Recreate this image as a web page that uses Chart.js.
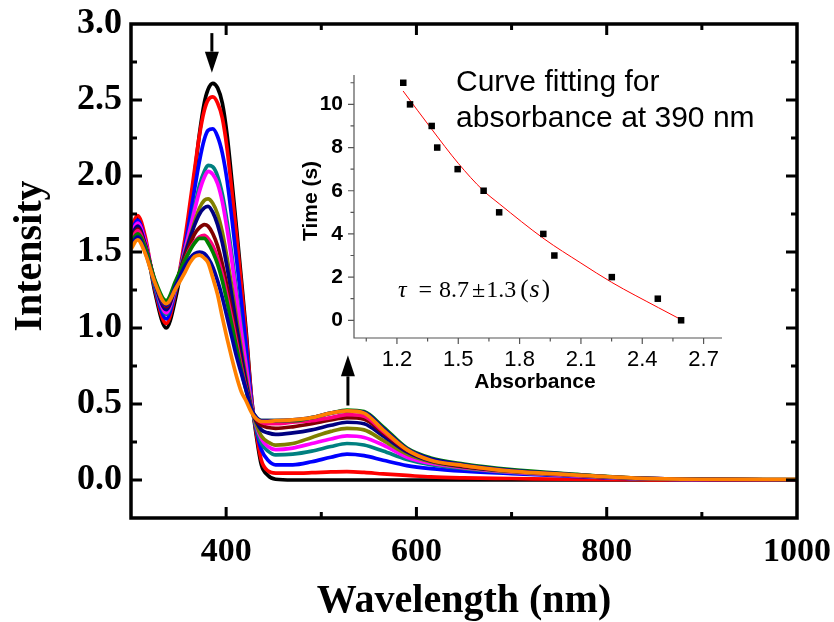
<!DOCTYPE html>
<html>
<head>
<meta charset="utf-8">
<script src="https://cdn.jsdelivr.net/npm/chart.js@4.4.1/dist/chart.umd.min.js"></script>
<style>
  html, body { margin: 0; padding: 0; background: #fff; }
  #wrap { position: relative; width: 834px; height: 622px; }
  #main { position: absolute; left: 0; top: 0; }
  #inset { position: absolute; left: 290px; top: 50px; }
</style>
</head>
<body>
<div id="wrap">
  <canvas id="main" width="834" height="622"></canvas>
  <canvas id="inset" width="490" height="350"></canvas>
</div>
<script>
// wavelength grid (nm) shared by all spectra
const wavelength = [300, 307, 315, 325, 337, 347, 357, 362, 367, 372, 377, 381, 386, 391, 396, 401, 406, 411, 416, 421, 427, 432, 437, 444, 452, 470, 490, 510, 527, 545, 565, 590, 615, 650, 700, 760, 830, 900, 1000];

const black   = [1.64,1.72,1.58,1.24,1.00, 1.20,1.55,1.78,2.02,2.28, 2.48,2.57,2.61,2.58,2.48, 2.27,1.97,1.65,1.32,0.98, 0.52,0.28,0.10,0.03,0.005, 0,0,0,0,0, 0,0,0,0,0, 0,0,0,0];
const red     = [1.66,1.74,1.60,1.26,1.03, 1.24,1.60,1.82,2.05,2.27, 2.43,2.50,2.52,2.48,2.38, 2.18,1.90,1.60,1.28,0.95, 0.52,0.30,0.13,0.06,0.045, 0.045,0.048,0.053,0.055,0.05, 0.04,0.03,0.02,0.014,0.01, 0.005,0.002,0,0];
const blue    = [1.63,1.71,1.57,1.27,1.06, 1.25,1.55,1.73,1.92,2.10, 2.24,2.30,2.31,2.26,2.15, 1.97,1.72,1.45,1.17,0.88, 0.50,0.32,0.20,0.13,0.10, 0.10,0.12,0.15,0.17,0.16, 0.13,0.095,0.075,0.058,0.042, 0.026,0.009,0.003,0];
const teal    = [1.60,1.67,1.55,1.28,1.09, 1.26,1.52,1.66,1.80,1.94, 2.03,2.07,2.06,2.00,1.88, 1.70,1.48,1.24,1.00,0.77, 0.48,0.33,0.24,0.19,0.165, 0.17,0.19,0.22,0.24,0.23, 0.19,0.135,0.10,0.075,0.05, 0.03,0.01,0.003,0];
const magenta = [1.62,1.69,1.57,1.30,1.10, 1.27,1.52,1.65,1.78,1.90, 1.99,2.03,2.01,1.95,1.83, 1.65,1.44,1.20,0.97,0.75, 0.48,0.35,0.27,0.22,0.20, 0.21,0.24,0.27,0.29,0.28, 0.23,0.15,0.11,0.08,0.052, 0.031,0.01,0.003,0];
const olive   = [1.58,1.65,1.54,1.30,1.13, 1.28,1.50,1.60,1.70,1.79, 1.84,1.85,1.82,1.75,1.63, 1.46,1.27,1.06,0.86,0.67, 0.47,0.36,0.29,0.25,0.23, 0.24,0.28,0.32,0.34,0.33, 0.26,0.17,0.12,0.085,0.055, 0.033,0.011,0.004,0];
const navy    = [1.60,1.67,1.55,1.30,1.12, 1.28,1.49,1.59,1.68,1.75, 1.79,1.80,1.76,1.68,1.56, 1.40,1.21,1.01,0.82,0.64, 0.46,0.38,0.33,0.31,0.30, 0.31,0.33,0.36,0.38,0.37, 0.29,0.185,0.125,0.088,0.058, 0.035,0.012,0.004,0];
const wine    = [1.58,1.65,1.54,1.31,1.14, 1.29,1.47,1.55,1.62,1.66, 1.68,1.67,1.62,1.54,1.42, 1.27,1.10,0.93,0.76,0.61, 0.46,0.39,0.36,0.345,0.34, 0.35,0.37,0.395,0.41,0.40, 0.31,0.195,0.13,0.09,0.06, 0.036,0.012,0.004,0];
const pink    = [1.57,1.64,1.53,1.31,1.15, 1.29,1.45,1.52,1.57,1.60, 1.61,1.59,1.54,1.46,1.35, 1.21,1.06,0.90,0.74,0.60, 0.46,0.40,0.38,0.37,0.37, 0.38,0.39,0.41,0.43,0.42, 0.32,0.20,0.135,0.095,0.062, 0.037,0.012,0.004,0];
const green   = [1.56,1.62,1.53,1.32,1.18, 1.31,1.45,1.51,1.56,1.59, 1.59,1.56,1.50,1.42,1.31, 1.17,1.02,0.87,0.72,0.59, 0.46,0.41,0.39,0.39,0.39, 0.39,0.41,0.44,0.46,0.45, 0.35,0.21,0.145,0.105,0.068, 0.04,0.013,0.005,0.003];
const royal   = [1.54,1.60,1.50,1.30,1.15, 1.28,1.41,1.46,1.49,1.50, 1.49,1.46,1.40,1.31,1.20, 1.07,0.94,0.81,0.70,0.59, 0.46,0.41,0.39,0.39,0.39, 0.395,0.41,0.44,0.455,0.445, 0.34,0.205,0.14,0.10,0.064, 0.038,0.012,0.005,0.003];
const orange  = [1.52,1.58,1.49,1.30,1.16, 1.26,1.37,1.43,1.47,1.48, 1.46,1.43,1.33,1.22,1.07, 0.93,0.80,0.68,0.58,0.52, 0.44,0.40,0.385,0.385,0.39, 0.395,0.41,0.44,0.455,0.44, 0.33,0.20,0.13,0.095,0.058, 0.036,0.012,0.005,0.004];

const spectra = [black, red, blue, teal, magenta, olive, navy, wine, pink, green, royal, orange];
const lineColors = ['#000000', '#ff0000', '#0000ff', '#008080', '#ff00ff', '#808000', '#000080', '#800000', '#ff0080', '#008000', '#0000a0', '#ff8000'];

// main axes
const xLabels = [400, 600, 800, 1000];
const xMinor = [500, 700, 900];
const yLabels = [0, 0.5, 1.0, 1.5, 2.0, 2.5, 3.0];
const yMinor = [0.25, 0.75, 1.25, 1.75, 2.25, 2.75];

// arrows: wavelength, start and end absorbance
const arrows = [
  { x: 385, from: 2.94, to: 2.68 },
  { x: 528, from: 0.49, to: 0.82 }
];

// inset: time vs absorbance at 390 nm
const insetTime = [0, 1, 2, 3, 4, 5, 6, 7, 8, 9, 10, 11];
const insetAbs = [2.59, 2.476, 2.251, 1.97, 1.916, 1.70, 1.624, 1.497, 1.397, 1.37, 1.264, 1.231];
const fitAbs = [1.23, 1.37, 1.50, 1.62, 1.70, 1.92, 2.10, 2.25, 2.48, 2.59];
const fitTime = [10.62, 8.85, 7.27, 6.03, 5.40, 3.77, 2.65, 1.76, 0.58, 0.03];
const insetXLabels = [1.2, 1.5, 1.8, 2.1, 2.4, 2.7];
const insetXMinor = [1.05, 1.35, 1.65, 1.95, 2.25, 2.55];
const insetYLabels = [0, 2, 4, 6, 8, 10];
const insetYMinor = [1, 3, 5, 7, 9, 11];

const serif = "'Liberation Serif', 'Times New Roman', serif";
const sans = "'Liberation Sans', Arial, sans-serif";

// frame with inward ticks, arrows and axis titles
const mainDecor = {
  id: 'mainDecor',
  afterDraw(chart) {
    const { ctx, chartArea: a, scales: { x, y } } = chart;
    ctx.save();
    ctx.strokeStyle = '#000';
    ctx.fillStyle = '#000';

    ctx.lineWidth = 3;
    ctx.beginPath();
    const tickX = (v, len) => {
      const px = x.getPixelForValue(v);
      ctx.moveTo(px, a.bottom); ctx.lineTo(px, a.bottom - len);
      ctx.moveTo(px, a.top); ctx.lineTo(px, a.top + len);
    };
    const tickY = (v, len) => {
      const py = y.getPixelForValue(v);
      ctx.moveTo(a.left, py); ctx.lineTo(a.left + len, py);
      ctx.moveTo(a.right, py); ctx.lineTo(a.right - len, py);
    };
    xLabels.filter(v => v < 1000).forEach(v => tickX(v, 11));
    xMinor.forEach(v => tickX(v, 6));
    yLabels.filter(v => v < 3).forEach(v => tickY(v, 11));
    yMinor.forEach(v => tickY(v, 6));
    ctx.stroke();

    ctx.lineWidth = 3.5;
    ctx.strokeRect(a.left, a.top, a.right - a.left, a.bottom - a.top);

    // arrows
    arrows.forEach(ar => {
      const px = x.getPixelForValue(ar.x);
      const p0 = y.getPixelForValue(ar.from);
      const p1 = y.getPixelForValue(ar.to);
      const dir = p1 > p0 ? 1 : -1;
      const headLen = 21;
      ctx.lineWidth = 3;
      ctx.beginPath();
      ctx.moveTo(px, p0);
      ctx.lineTo(px, p1 - dir * headLen);
      ctx.stroke();
      ctx.beginPath();
      ctx.moveTo(px, p1);
      ctx.lineTo(px - 7, p1 - dir * headLen);
      ctx.lineTo(px + 7, p1 - dir * headLen);
      ctx.closePath();
      ctx.fill();
    });

    // axis titles
    ctx.font = 'bold 40px ' + serif;
    ctx.textAlign = 'center';
    ctx.textBaseline = 'alphabetic';
    ctx.fillText('Wavelength (nm)', (a.left + a.right) / 2, 612);
    ctx.translate(41, 256);
    ctx.rotate(-Math.PI / 2);
    ctx.fillText('Intensity', 0, 0);
    ctx.restore();
  }
};

new Chart(document.getElementById('main'), {
  type: 'line',
  data: {
    datasets: spectra.map((s, i) => ({
      data: wavelength.map((w, j) => ({ x: w, y: s[j] })),
      borderColor: lineColors[i],
      borderWidth: 3.7,
      pointRadius: 0,
      cubicInterpolationMode: 'monotone',
      order: spectra.length - 1 - i
    }))
  },
  options: {
    responsive: false,
    animation: false,
    layout: { padding: { top: 24, right: 37, left: 0, bottom: 0 } },
    plugins: { legend: { display: false }, tooltip: { enabled: false } },
    scales: {
      x: {
        type: 'linear', min: 300, max: 1000,
        afterFit: s => { s.height = 104; s.paddingRight = 0; s.paddingLeft = 0; },
        afterBuildTicks: s => { s.ticks = xLabels.map(v => ({ value: v })); },
        grid: { display: false, drawTicks: false },
        border: { display: false },
        ticks: { color: '#000', padding: 14, maxRotation: 0, autoSkip: false,
                 callback: v => String(v),
                 font: { family: serif, size: 34, weight: 'bold' } }
      },
      y: {
        min: -0.25, max: 3.0,
        afterFit: s => { s.width = 131; s.paddingTop = 0; s.paddingBottom = 0; },
        afterBuildTicks: s => { s.ticks = yLabels.map(v => ({ value: v })); },
        grid: { display: false, drawTicks: false },
        border: { display: false },
        ticks: { color: '#000', padding: 9, autoSkip: false,
                 callback: v => v.toFixed(1),
                 font: { family: serif, size: 36, weight: 'bold' } }
      }
    }
  },
  plugins: [mainDecor]
});

// inset axes, ticks and texts
const insetDecor = {
  id: 'insetDecor',
  afterDraw(chart) {
    const { ctx, chartArea: a, scales: { x, y } } = chart;
    ctx.save();
    ctx.strokeStyle = '#555';
    ctx.fillStyle = '#000';
    ctx.lineWidth = 1.2;
    ctx.beginPath();
    ctx.moveTo(a.left, a.top); ctx.lineTo(a.left, a.bottom); ctx.lineTo(a.right, a.bottom);
    insetXLabels.forEach(v => { const p = x.getPixelForValue(v); ctx.moveTo(p, a.bottom); ctx.lineTo(p, a.bottom + 6); });
    insetXMinor.forEach(v => { const p = x.getPixelForValue(v); ctx.moveTo(p, a.bottom); ctx.lineTo(p, a.bottom + 3.5); });
    insetYLabels.forEach(v => { const p = y.getPixelForValue(v); ctx.moveTo(a.left, p); ctx.lineTo(a.left - 6, p); });
    insetYMinor.forEach(v => { const p = y.getPixelForValue(v); ctx.moveTo(a.left, p); ctx.lineTo(a.left - 3.5, p); });
    ctx.stroke();

    ctx.textAlign = 'center';
    ctx.font = 'bold 21px ' + sans;
    ctx.fillText('Absorbance', (a.left + a.right) / 2 - 3, 338);
    ctx.save();
    ctx.translate(27, 151);
    ctx.rotate(-Math.PI / 2);
    ctx.fillText('Time (s)', 0, 0);
    ctx.restore();

    ctx.textAlign = 'left';
    ctx.font = '30px ' + sans;
    const tx = x.getPixelForValue(1.489);
    ctx.fillText('Curve fitting for', tx, y.getPixelForValue(10.63));
    ctx.fillText('absorbance at 390 nm', tx, y.getPixelForValue(8.96));

    // tau = 8.7 +- 1.3 (s), laid out piece by piece like an equation
    const by = y.getPixelForValue(1.07);
    let cx = x.getPixelForValue(1.205);
    const parts = [
      ['τ', 'italic 24px', 12], ['=', '24px', 7], ['8.7', '24px', 3], ['±', '24px', 1],
      ['1.3', '24px', 4], ['(', '25px', 1], ['s', 'italic 26px', 2], [')', '25px', 0]
    ];
    parts.forEach(([t, f, gap]) => {
      ctx.font = f + ' ' + serif;
      ctx.fillText(t, cx, by);
      cx += ctx.measureText(t).width + gap;
    });
    ctx.restore();
  }
};

new Chart(document.getElementById('inset'), {
  type: 'scatter',
  data: {
    datasets: [
      {
        type: 'line',
        data: fitAbs.map((v, i) => ({ x: v, y: fitTime[i] })),
        borderColor: '#ff0000', borderWidth: 1, pointRadius: 0,
        cubicInterpolationMode: 'monotone', order: 1
      },
      {
        data: insetAbs.map((v, i) => ({ x: v, y: insetTime[i] })),
        pointStyle: 'rect', pointRadius: 4.6, backgroundColor: '#000',
        borderWidth: 0, order: 0
      }
    ]
  },
  options: {
    responsive: false,
    animation: false,
    layout: { padding: { top: 25, right: 58, left: 0, bottom: 0 } },
    plugins: { legend: { display: false }, tooltip: { enabled: false } },
    scales: {
      x: {
        type: 'linear', min: 0.99, max: 2.79,
        afterFit: s => { s.height = 62; s.paddingRight = 0; s.paddingLeft = 0; },
        afterBuildTicks: s => { s.ticks = insetXLabels.map(v => ({ value: v })); },
        grid: { display: false, drawTicks: false },
        border: { display: false },
        ticks: { color: '#000', padding: 9, maxRotation: 0, autoSkip: false,
                 callback: v => v.toFixed(1),
                 font: { family: sans, size: 22 } }
      },
      y: {
        min: -0.82, max: 11.36,
        afterFit: s => { s.width = 64; s.paddingTop = 0; s.paddingBottom = 0; },
        afterBuildTicks: s => { s.ticks = insetYLabels.map(v => ({ value: v })); },
        grid: { display: false, drawTicks: false },
        border: { display: false },
        ticks: { color: '#000', padding: 11, autoSkip: false,
                 font: { family: sans, size: 21, weight: 'bold' } }
      }
    }
  },
  plugins: [insetDecor]
});
</script>
</body>
</html>
